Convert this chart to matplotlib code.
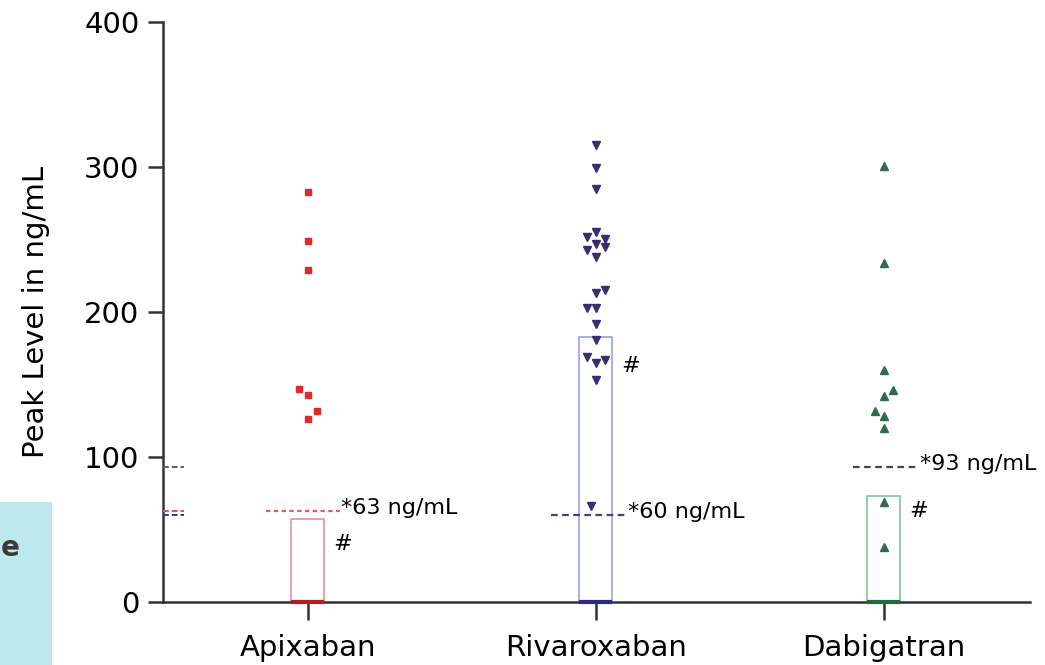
import matplotlib
matplotlib.use("Agg")
import matplotlib.pyplot as plt
from matplotlib.patches import Rectangle

plt.rcParams['font.family'] = ['DejaVu Sans']

categories = ["Apixaban", "Rivaroxaban", "Dabigatran"]
apixaban = [283, 249, 229, 147, 143, 132, 126]
apixaban_jit = [0, 0, 0, -1, 0, 1, 0]
rivaroxaban = [315, 299, 285, 252, 255, 250, 247, 243, 245, 238, 215, 213,
               203, 203, 192, 181, 169, 165, 167, 153, 66]
rivaroxaban_jit = [0, 0, 0, -1, 0, 1, 0, -1, 1, 0, 1, 0, -1, 0, 0, 0, -1, 0, 1, 0, -0.5]
dabigatran = [301, 234, 160, 146, 142, 132, 128, 120, 69, 38]
dabigatran_jit = [0, 0, 0, 1, 0, -1, 0, 0, 0, 0]
bar_heights = [57, 183, 73]
thresholds = [63, 60, 93]
threshold_labels = ["*63 ng/mL", "*60 ng/mL", "*93 ng/mL"]
yticks = [0, 100, 200, 300, 400]

values = [apixaban, rivaroxaban, dabigatran]
jitters = [apixaban_jit, rivaroxaban_jit, dabigatran_jit]
markers = ['s', 'v', '^']
mcolors = ['#e02a2a', '#3a2c6e', '#2f6b4c']
msizes = [5, 6, 6]
edgecolors = ['#e8999b', '#a3a8ec', '#86caa0']
basecolors = ['#b02020', '#2a2a80', '#1f6b3a']
dashcolors = ['#e06060', '#4a3c88', '#3d4a44']
dash_ext = [(-0.145, 0.11), (-0.155, 0.105), (-0.108, 0.118)]
hash_off = [-17, -20, -10]

fig = plt.figure(figsize=(10.45, 6.65), dpi=100)
ax = fig.add_axes([0.156, 0.0947, 0.8296, 0.8723])
ax.set_xlim(-0.503, 2.507)
ax.set_ylim(0, 400)

jstep = 0.031
bw = 0.115
for i, (vals, jit) in enumerate(zip(values, jitters)):
    ax.add_patch(Rectangle((i - bw / 2, 0), bw, bar_heights[i], fill=False,
                           edgecolor=edgecolors[i], lw=1.3, zorder=2))
    ax.plot([i - bw / 2, i + bw / 2], [0, 0], color=basecolors[i], lw=3,
            zorder=4, clip_on=False, solid_capstyle='butt')
    xs = [i + j * jstep for j in jit]
    ax.plot(xs, vals, linestyle='none', marker=markers[i], color=mcolors[i],
            markersize=msizes[i], zorder=3)
    x0, x1 = dash_ext[i]
    ax.plot([i + x0, i + x1], [thresholds[i], thresholds[i]],
            linestyle=(0, (3, 2)) if i else (0, (2, 1.5)),
            color=dashcolors[i], lw=1.6, zorder=3)
    ax.text(i + x1 + 0.006, thresholds[i] + 2, threshold_labels[i],
            fontsize=16, va='center', ha='left', color='black')
    ax.text(i + bw / 2 + 0.03, bar_heights[i] + hash_off[i],
            '#', fontsize=16, va='center', ha='left', color='black')

small_cols = ['#e05050', '#3a3a90', '#606060']
for t, c in zip(thresholds, small_cols):
    ax.plot([-0.503, -0.43], [t, t], linestyle=(0, (3, 1.5)), color=c,
            lw=1.4, zorder=3, clip_on=False)

ax.set_xticks(range(len(categories)))
ax.set_xticklabels(categories, fontsize=21)
ax.set_yticks(yticks)
ax.set_yticklabels([str(t) for t in yticks], fontsize=21)
ax.set_ylabel("Peak Level in ng/mL", fontsize=21)
ax.yaxis.set_label_coords(-0.13, 0.5)

for s in ['top', 'right']:
    ax.spines[s].set_visible(False)
for s in ['left', 'bottom']:
    ax.spines[s].set_linewidth(1.8)
    ax.spines[s].set_color('#333333')
ax.tick_params(axis='y', direction='out', length=11, width=1.8, color='#333333', pad=6)
ax.tick_params(axis='x', direction='out', length=13, width=1.8, color='#333333', pad=10)

fig.patches.append(Rectangle((0, 0), 52 / 1045, 163 / 665, transform=fig.transFigure,
                             facecolor='#bde8ee', edgecolor='none', zorder=0))
fig.text(1 / 1045, 1 - 548 / 665, 'e', fontsize=20, fontweight='bold',
         color='#3a3a3a', ha='left', va='center')

fig.savefig('out.png', dpi=100)
